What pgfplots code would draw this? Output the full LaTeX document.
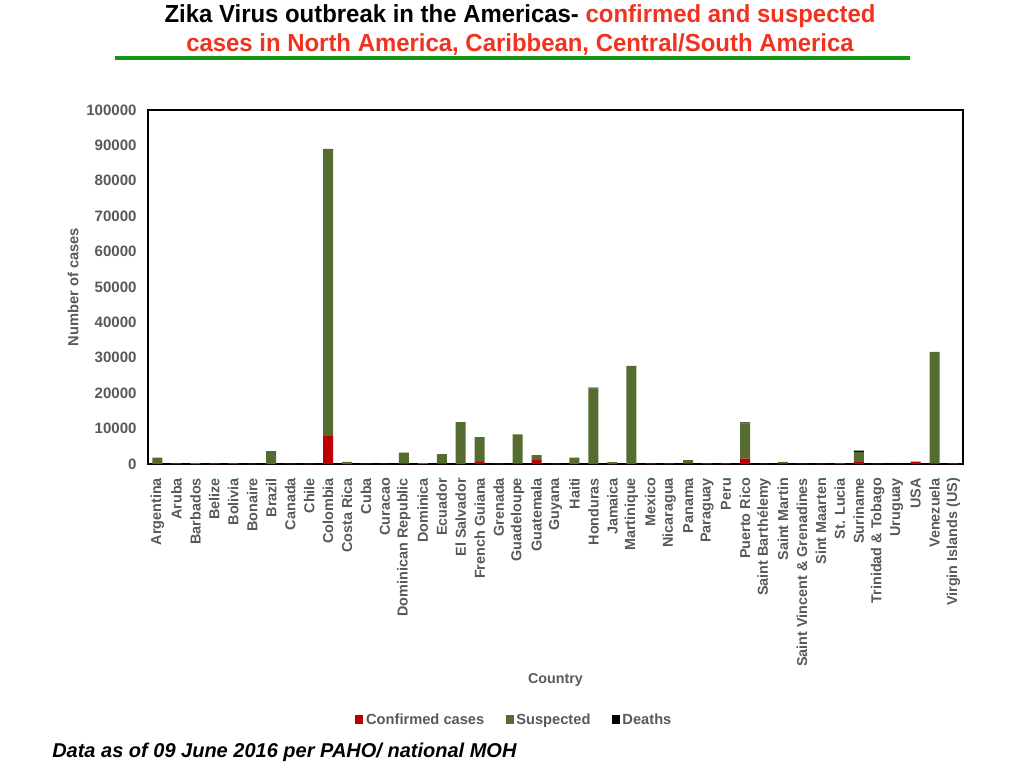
\documentclass[border=0pt]{standalone}
\usepackage{pgfplots}
\pgfplotsset{compat=1.18}
\usepackage{pgfplotstable}
\usepackage{fontspec}
\setmainfont{Liberation Sans}
\newfontfamily\narrowfont[FakeStretch=0.97]{Liberation Sans}
\definecolor{conf}{HTML}{C00000}
\definecolor{susp}{HTML}{556B2F}
\definecolor{txt}{HTML}{595959}
\definecolor{ttlred}{HTML}{F0321E}
\definecolor{ttlgreen}{HTML}{149614}

\pgfplotstableread{
x conf susp deaths
0 50 1750 0
1 150 100 0
2 30 200 0
3 100 50 0
4 50 150 0
5 100 0 0
6 0 3200 350
7 100 0 0
8 100 0 0
9 7900 81100 0
10 50 550 0
11 100 0 0
12 100 0 0
13 100 3100 0
14 50 200 0
15 100 2700 0
16 50 11800 0
17 600 7000 0
18 100 0 0
19 100 8300 0
20 1100 1400 0
21 100 0 0
22 50 1750 0
23 50 21300 250
24 50 500 0
25 50 27700 0
26 150 0 0
27 150 0 0
28 150 950 0
29 100 50 0
30 100 50 0
31 1500 10000 250
32 100 0 0
33 100 500 0
34 100 0 0
35 100 0 0
36 50 100 0
37 500 2900 350
38 100 0 0
39 50 0 0
40 700 0 0
41 100 31600 0
42 100 50 0
}\datatable

\begin{document}
\begin{tikzpicture}
\path[use as bounding box] (0pt,0pt) rectangle (768pt,576pt);
% title
\node[font=\narrowfont\bfseries\fontsize{18.5}{21}\selectfont, anchor=center] at (390pt,564pt)
  {Zika Virus outbreak in the Americas- \textcolor{ttlred}{confirmed and suspected}};
\node[font=\narrowfont\bfseries\fontsize{18.5}{21}\selectfont, text=ttlred, anchor=center] at (390pt,543pt)
  {cases in North America, Caribbean, Central/South America};
\draw[ttlgreen, line width=3pt] (86pt,532.5pt) -- (682.5pt,532.5pt);
% footer
\node[font=\bfseries\itshape\fontsize{15}{17}\selectfont, anchor=west, inner sep=0pt] at (39pt,12pt)
  {Data as of 09 June 2016 per PAHO/ national MOH};
\begin{axis}[
  at={(111pt,228pt)}, anchor=south west,
  scale only axis, width=611.25pt, height=265.5pt,
  ybar stacked, bar width=7.5pt,
  xmin=-0.5, xmax=42.5, ymin=0, ymax=100000,
  ytick={0,10000,...,100000},
  xtick={0,...,42},
  xticklabels={Argentina,Aruba,Barbados,Belize,Bolivia,Bonaire,Brazil,Canada,Chile,Colombia,Costa Rica,Cuba,Curacao,Dominican Republic,Dominica,Ecuador,El Salvador,French Guiana,Grenada,Guadeloupe,Guatemala,Guyana,Haiti,Honduras,Jamaica,Martinique,Mexico,Nicaragua,Panama,Paraguay,Peru,Puerto Rico,Saint Barthélemy,Saint Martin,Saint Vincent \& Grenadines,Sint Maarten,St. Lucia,Suriname,Trinidad  \& Tobago,Uruguay,USA,Venezuela,Virgin Islands (US)},
  major tick length=0pt,
  scaled y ticks=false,
  /pgf/number format/assume math mode=true,
  yticklabel style={/pgf/number format/fixed, /pgf/number format/1000 sep={}, font=\bfseries\fontsize{11.3}{12}\selectfont, text=txt, xshift=-5pt},
  xticklabel style={rotate=90, anchor=east, font=\bfseries\fontsize{10.8}{12}\selectfont, text=txt, xshift=-7pt},
  ylabel={Number of cases},
  ylabel style={font=\bfseries\fontsize{11}{12}\selectfont, text=txt, at={(axis description cs:-0.092,0.5)}, anchor=center},
  xlabel={Country},
  xlabel style={font=\bfseries\fontsize{10.7}{12}\selectfont, text=txt, at={(axis description cs:0.5,-0.61)}, anchor=center},
  axis line style={black, line width=0.8pt},
  legend columns=-1,
  legend style={draw=none, fill=none, at={(0.45,-0.723)}, anchor=center,
    font=\bfseries\fontsize{11}{12}\selectfont, text=txt,
    /tikz/every even column/.append style={column sep=14pt}},
  legend image code/.code={\fill[#1] (0pt,-3pt) rectangle (6pt,3.5pt);},
]
\addplot[fill=conf, draw=none] table[x=x,y=conf]{\datatable};
\addplot[fill=susp, draw=none] table[x=x,y=susp]{\datatable};
\addplot[fill=black, draw=none] table[x=x,y=deaths]{\datatable};
\legend{Confirmed cases,Suspected,Deaths}
\end{axis}
\end{tikzpicture}
\end{document}
